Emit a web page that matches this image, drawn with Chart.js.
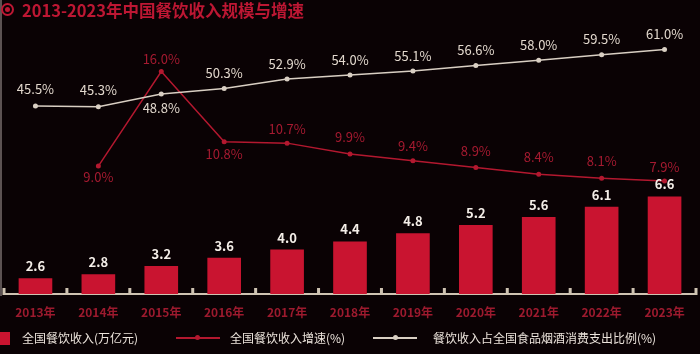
<!DOCTYPE html>
<html>
<head>
<meta charset="utf-8">
<script src="https://cdn.jsdelivr.net/npm/chart.js@4/dist/chart.umd.min.js"></script>
<style>
  html, body { margin: 0; padding: 0; background: #0a0204; }
  #wrap { position: relative; width: 700px; height: 354px; background: #0a0204; overflow: hidden; font-family: "Noto Sans CJK SC", sans-serif; }
  #chart { position: absolute; left: 0; top: 0; }
  .edge { position: absolute; left: 0; top: 0; width: 2px; height: 296px; background: #5c5252; }
  .icon { position: absolute; left: 1px; top: 3px; width: 9px; height: 9px; border: 2px solid #bd1733; border-radius: 50%; }
  .icon::after { content: ""; position: absolute; left: 2px; top: 2px; width: 5px; height: 5px; border-radius: 50%; background: #bd1733; }
  .title { position: absolute; left: 22px; top: 0px; font-size: 16.5px; font-weight: bold; color: #bd1733; line-height: 20px; white-space: nowrap; }
  .lg-text { position: absolute; top: 329px; font-size: 12px; line-height: 18px; color: #ece4dc; white-space: nowrap; }
  .lg-box { position: absolute; left: 0; top: 332px; width: 10px; height: 13px; background: #c91430; }
  .lg-line { position: absolute; top: 337px; width: 44px; height: 1.5px; }
  .lg-dot { position: absolute; top: 335px; width: 5px; height: 5px; border-radius: 50%; }
</style>
</head>
<body>
<div id="wrap">
  <canvas id="chart" width="700" height="354"></canvas>
  <div class="edge"></div>
  <div class="icon"></div>
  <div class="title">2013-2023年中国餐饮收入规模与增速</div>

  <div class="lg-box"></div>
  <div class="lg-text" style="left:22px">全国餐饮收入(万亿元)</div>
  <div class="lg-line" style="left:176px;background:#b3182f"></div>
  <div class="lg-dot" style="left:195px;background:#b3182f"></div>
  <div class="lg-text" style="left:230px">全国餐饮收入增速(%)</div>
  <div class="lg-line" style="left:373px;background:#d9cfc3"></div>
  <div class="lg-dot" style="left:393px;background:#d9cfc3"></div>
  <div class="lg-text" style="left:433px">餐饮收入占全国食品烟酒消费支出比例(%)</div>
</div>
<script>
const years = ["2013年", "2014年", "2015年", "2016年", "2017年", "2018年", "2019年", "2020年", "2021年", "2022年", "2023年"];
const revenue = [2.6, 2.8, 3.2, 3.6, 4.0, 4.4, 4.8, 5.2, 5.6, 6.1, 6.6];
const growth = [null, 9.0, 16.0, 10.8, 10.7, 9.9, 9.4, 8.9, 8.4, 8.1, 7.9];
const share = [45.5, 45.3, 48.8, 50.3, 52.9, 54.0, 55.1, 56.6, 58.0, 59.5, 61.0];

// where each value label sits relative to its mark (px, negative = above)
const revenueShift = [-12, -12, -12, -12, -12, -12, -12, -12, -12, -12, -12];
const growthShift = [0, 11, -12, 12, -14, -17, -15, -16, -17, -17, -14];
const shareShift = [-17, -17, 14, -15, -15, -15, -15, -15, -15, -16, -15];

const FONT = "'Noto Sans CJK SC', sans-serif";
const RED = "#c91430";
const LINE_RED = "#b3182f";
const BEIGE = "#d9cfc3";

const labelStyles = [
  { shift: revenueShift, color: "#f4eee8", font: "bold 13px " + FONT, fmt: (v) => v.toFixed(1) },
  { shift: growthShift, color: "#a51a30", font: "13px " + FONT, fmt: (v) => v.toFixed(1) + "%" },
  { shift: shareShift, color: "#e2d8cd", font: "13px " + FONT, fmt: (v) => v.toFixed(1) + "%" },
];

const valueLabels = {
  id: "valueLabels",
  afterDatasetsDraw(chart) {
    const ctx = chart.ctx;
    ctx.save();
    ctx.textAlign = "center";
    ctx.textBaseline = "middle";
    chart.data.datasets.forEach((ds, i) => {
      const style = labelStyles[i];
      const meta = chart.getDatasetMeta(i);
      meta.data.forEach((el, j) => {
        const v = ds.data[j];
        if (v === null) return;
        ctx.font = style.font;
        ctx.fillStyle = style.color;
        ctx.fillText(style.fmt(v), el.x, el.y + style.shift[j]);
      });
    });
    ctx.restore();
  },
};

// little square marks on the axis between the years
const axisMarks = {
  id: "axisMarks",
  afterDraw(chart) {
    const ctx = chart.ctx;
    const xs = chart.scales.x;
    const bottom = chart.chartArea.bottom;
    ctx.save();
    ctx.fillStyle = "#cfc3b2";
    for (let i = 0; i <= years.length; i++) {
      const px = xs.getPixelForValue(i - 0.5);
      ctx.fillRect(px - 1.5, bottom - 6, 3, 7);
    }
    ctx.restore();
  },
};

new Chart(document.querySelector("#chart"), {
  type: "bar",
  data: {
    labels: years,
    datasets: [
      {
        type: "bar",
        label: "全国餐饮收入(万亿元)",
        data: revenue,
        backgroundColor: RED,
        yAxisID: "y",
        barPercentage: 0.535,
        categoryPercentage: 1,
        order: 3,
      },
      {
        type: "line",
        label: "全国餐饮收入增速(%)",
        data: growth,
        borderColor: LINE_RED,
        backgroundColor: LINE_RED,
        borderWidth: 1.5,
        pointRadius: 2.5,
        pointBorderWidth: 0,
        tension: 0,
        yAxisID: "y1",
        order: 2,
      },
      {
        type: "line",
        label: "餐饮收入占全国食品烟酒消费支出比例(%)",
        data: share,
        borderColor: BEIGE,
        backgroundColor: BEIGE,
        borderWidth: 1.5,
        pointRadius: 2.5,
        pointBorderWidth: 0,
        tension: 0,
        yAxisID: "y2",
        order: 1,
      },
    ],
  },
  options: {
    responsive: false,
    animation: false,
    devicePixelRatio: 1,
    layout: { padding: { left: 1, right: 0, top: 24, bottom: 0 } },
    plugins: { legend: { display: false }, tooltip: { enabled: false } },
    scales: {
      x: {
        offset: true,
        grid: { display: false, drawTicks: false },
        border: { display: true, color: "#cfc3b2", width: 2 },
        ticks: {
          color: "#9c1a2e",
          font: { family: FONT, size: 12, weight: "bold" },
          padding: 11,
          maxRotation: 0,
          autoSkip: false,
        },
        afterFit: (scale) => {
          scale.height = 60;
        },
      },
      y: { display: false, min: 1.83, max: 15.03 },
      y1: { display: false, min: -0.47, max: 19.52 },
      y2: { display: false, min: -6.05, max: 67.96 },
    },
  },
  plugins: [valueLabels, axisMarks],
});
</script>
</body>
</html>
